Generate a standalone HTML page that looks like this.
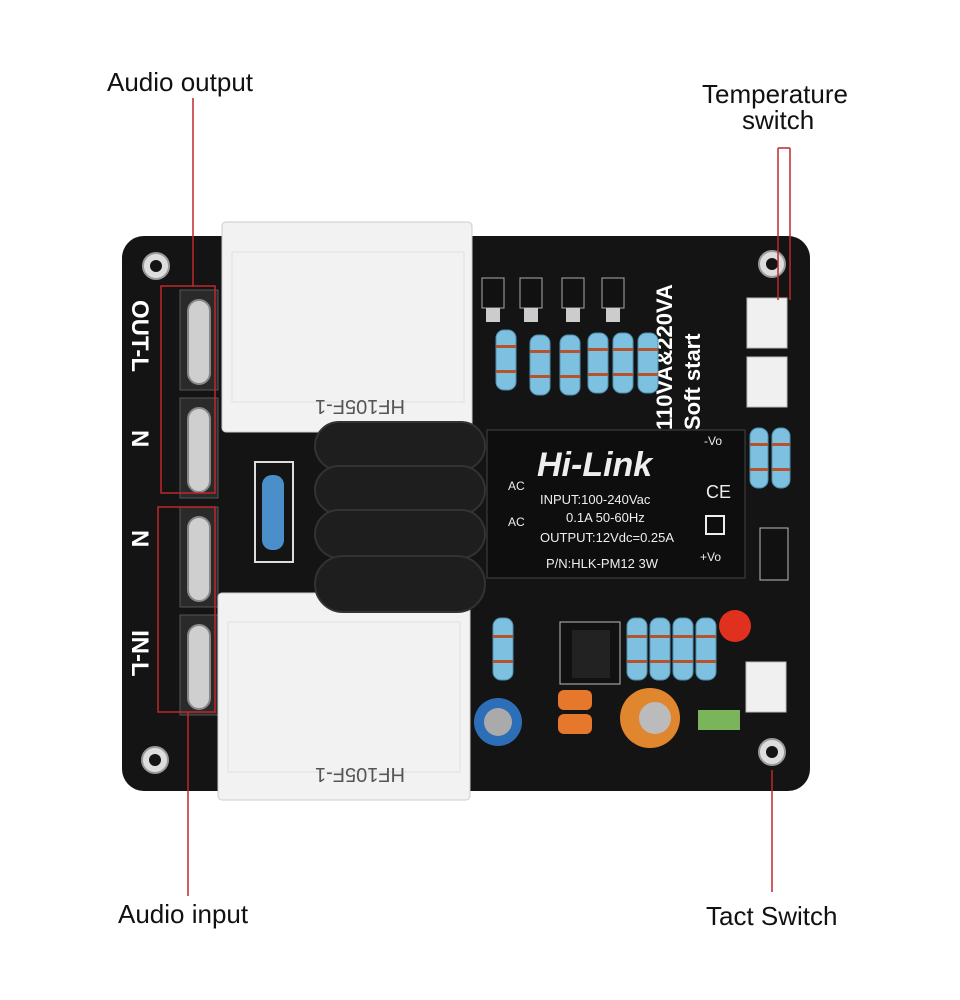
<!DOCTYPE html>
<html><head><meta charset="utf-8"><style>
html,body{margin:0;padding:0;background:#fff;width:960px;height:1000px;overflow:hidden}
svg{display:block}
text{font-family:"Liberation Sans",sans-serif}
</style></head><body>
<svg width="960" height="1000" viewBox="0 0 960 1000">
<rect width="960" height="1000" fill="#fff"/>
<rect x="122" y="236" width="688" height="555" rx="22" fill="#141414"/>
<g fill="#ddd" stroke="#999" stroke-width="2">
<circle cx="156" cy="266" r="13"/><circle cx="772" cy="264" r="13"/>
<circle cx="155" cy="760" r="13"/><circle cx="772" cy="752" r="13"/>
</g>
<g fill="#141414"><circle cx="156" cy="266" r="6"/><circle cx="772" cy="264" r="6"/><circle cx="155" cy="760" r="6"/><circle cx="772" cy="752" r="6"/></g>
<g fill="#fff" font-size="24" font-weight="bold">
<text transform="translate(132,300) rotate(90)">OUT-L</text>
<text transform="translate(132,430) rotate(90)">N</text>
<text transform="translate(132,530) rotate(90)">N</text>
<text transform="translate(132,630) rotate(90)">IN-L</text>
</g>
<g fill="#2a2a2a" stroke="#555">
<rect x="180" y="290" width="38" height="100"/><rect x="180" y="398" width="38" height="100"/>
<rect x="180" y="507" width="38" height="100"/><rect x="180" y="615" width="38" height="100"/>
</g>
<g fill="#cfcfcf" stroke="#888" stroke-width="2">
<rect x="188" y="300" width="22" height="84" rx="11"/><rect x="188" y="408" width="22" height="84" rx="11"/>
<rect x="188" y="517" width="22" height="84" rx="11"/><rect x="188" y="625" width="22" height="84" rx="11"/>
</g>
<rect x="222" y="222" width="250" height="210" rx="4" fill="#f2f2f2" stroke="#ccc"/>
<rect x="218" y="593" width="252" height="207" rx="4" fill="#f2f2f2" stroke="#ccc"/>
<rect x="232" y="252" width="232" height="150" fill="none" stroke="#e0e0e0"/>
<rect x="228" y="622" width="232" height="150" fill="none" stroke="#e0e0e0"/>
<g fill="#555" font-size="20"><text transform="translate(405,400) rotate(180)">HF105F-1</text><text transform="translate(405,768) rotate(180)">HF105F-1</text></g>
<rect x="255" y="462" width="38" height="100" fill="none" stroke="#ddd" stroke-width="2"/>
<rect x="262" y="475" width="22" height="75" rx="10" fill="#4a8fc9"/>
<g fill="#1e1e1e" stroke="#333" stroke-width="2">
<rect x="315" y="422" width="170" height="48" rx="24"/>
<rect x="315" y="466" width="170" height="48" rx="24"/>
<rect x="315" y="510" width="170" height="48" rx="24"/>
<rect x="315" y="556" width="170" height="56" rx="28"/>
</g>
<rect x="487" y="430" width="258" height="148" fill="#0e0e0e" stroke="#444"/>
<g fill="#eee">
<text x="537" y="476" font-size="34" font-weight="bold" font-style="italic">Hi-Link</text>
<text x="540" y="504" font-size="13" font-family="Liberation Mono">INPUT:100-240Vac</text>
<text x="566" y="522" font-size="13" font-family="Liberation Mono">0.1A 50-60Hz</text>
<text x="540" y="542" font-size="13" font-family="Liberation Mono">OUTPUT:12Vdc=0.25A</text>
<text x="546" y="568" font-size="13" font-family="Liberation Mono">P/N:HLK-PM12 3W</text>
<text x="508" y="490" font-size="12">AC</text><text x="508" y="526" font-size="12">AC</text>
<text x="704" y="445" font-size="12">-Vo</text><text x="700" y="561" font-size="12">+Vo</text>
<text x="706" y="498" font-size="18">CE</text>
</g>
<rect x="706" y="516" width="18" height="18" fill="none" stroke="#eee" stroke-width="2"/>
<g fill="#fff" font-weight="bold" font-size="22"><text transform="translate(672,430) rotate(-90)">110VA&amp;220VA</text><text transform="translate(700,430) rotate(-90)">Soft start</text></g>
<g fill="#111" stroke="#aaa"><path d="M482 278h22v30h-22z"/><path d="M520 278h22v30h-22z"/><path d="M562 278h22v30h-22z"/><path d="M602 278h22v30h-22z"/></g>
<g fill="#ccc"><rect x="486" y="308" width="14" height="14"/><rect x="524" y="308" width="14" height="14"/><rect x="566" y="308" width="14" height="14"/><rect x="606" y="308" width="14" height="14"/></g>
<g fill="#7ec0e0" stroke="#4f8fae">
<rect x="496" y="330" width="20" height="60" rx="8"/><rect x="530" y="335" width="20" height="60" rx="8"/>
<rect x="560" y="335" width="20" height="60" rx="8"/><rect x="588" y="333" width="20" height="60" rx="8"/>
<rect x="613" y="333" width="20" height="60" rx="8"/><rect x="638" y="333" width="20" height="60" rx="8"/>
<rect x="750" y="428" width="18" height="60" rx="8"/><rect x="772" y="428" width="18" height="60" rx="8"/>
<rect x="493" y="618" width="20" height="62" rx="8"/><rect x="627" y="618" width="20" height="62" rx="8"/>
<rect x="650" y="618" width="20" height="62" rx="8"/><rect x="673" y="618" width="20" height="62" rx="8"/>
<rect x="696" y="618" width="20" height="62" rx="8"/>
</g>
<g fill="#b5542c">
<rect x="496" y="345" width="20" height="3"/><rect x="530" y="350" width="20" height="3"/><rect x="560" y="350" width="20" height="3"/><rect x="588" y="348" width="20" height="3"/><rect x="613" y="348" width="20" height="3"/><rect x="638" y="348" width="20" height="3"/>
<rect x="496" y="370" width="20" height="3"/><rect x="530" y="375" width="20" height="3"/><rect x="560" y="375" width="20" height="3"/><rect x="588" y="373" width="20" height="3"/><rect x="613" y="373" width="20" height="3"/><rect x="638" y="373" width="20" height="3"/>
<rect x="750" y="443" width="18" height="3"/><rect x="772" y="443" width="18" height="3"/><rect x="750" y="468" width="18" height="3"/><rect x="772" y="468" width="18" height="3"/>
<rect x="493" y="635" width="20" height="3"/><rect x="627" y="635" width="20" height="3"/><rect x="650" y="635" width="20" height="3"/><rect x="673" y="635" width="20" height="3"/><rect x="696" y="635" width="20" height="3"/>
<rect x="493" y="660" width="20" height="3"/><rect x="627" y="660" width="20" height="3"/><rect x="650" y="660" width="20" height="3"/><rect x="673" y="660" width="20" height="3"/><rect x="696" y="660" width="20" height="3"/>
</g>
<g fill="#f0f0f0" stroke="#bbb"><rect x="747" y="298" width="40" height="50"/><rect x="747" y="357" width="40" height="50"/><rect x="746" y="662" width="40" height="50"/></g>
<rect x="560" y="622" width="60" height="62" fill="#111" stroke="#bbb"/>
<rect x="572" y="630" width="38" height="48" fill="#222"/>
<rect x="760" y="528" width="28" height="52" fill="#111" stroke="#bbb"/>
<circle cx="498" cy="722" r="24" fill="#2c6fb8"/><circle cx="498" cy="722" r="14" fill="#aaa"/>
<circle cx="650" cy="718" r="30" fill="#e0862e"/><circle cx="655" cy="718" r="16" fill="#bbb"/>
<rect x="558" y="690" width="34" height="20" rx="6" fill="#e6782c"/><rect x="558" y="714" width="34" height="20" rx="6" fill="#e6782c"/>
<rect x="698" y="710" width="42" height="20" fill="#7ab55c"/>
<circle cx="735" cy="626" r="16" fill="#e0301e"/>
<g stroke="#c0282b" stroke-width="1.5" fill="none">
<line x1="193" y1="98" x2="193" y2="286"/>
<rect x="161" y="286" width="54" height="207"/>
<rect x="158" y="507" width="57" height="205"/>
<line x1="188" y1="712" x2="188" y2="896"/>
<path d="M778 148h12M778 148v152M790 148v152"/>
<line x1="772" y1="770" x2="772" y2="892"/>
</g>
<g fill="#111" font-size="26">
<text x="107" y="91">Audio output</text>
<text x="118" y="923">Audio input</text>
<text x="702" y="103">Temperature</text>
<text x="742" y="129">switch</text>
<text x="706" y="925">Tact Switch</text>
</g>
</svg>
</body></html>
